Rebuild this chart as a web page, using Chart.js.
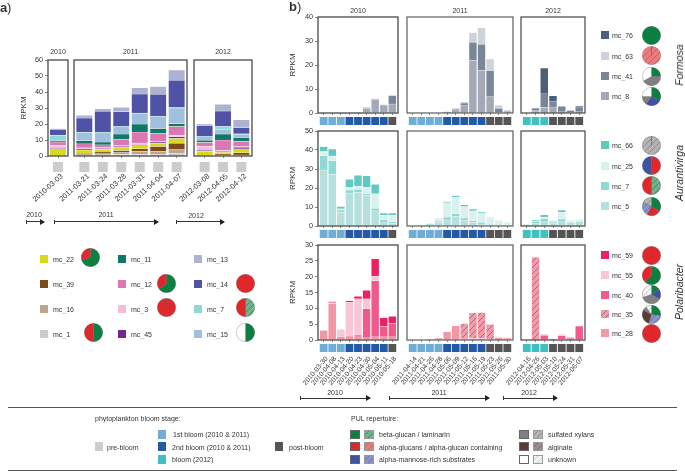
<!DOCTYPE html>
<html>
<head>
<meta charset="utf-8">
<title>RPKM</title>
<script src="https://cdn.jsdelivr.net/npm/chart.js@4"></script>
<style>
  html, body { margin: 0; padding: 0; background: #fff; }
  #page { position: relative; width: 685px; height: 471px; overflow: hidden; font-family: "Liberation Sans", Arial, sans-serif; color: #333; }
  #page canvas { position: absolute; }
  .txt { position: absolute; font-size: 7px; line-height: 9px; white-space: nowrap; transform: translateY(-50%); will-change: transform; }
  .box { position: absolute; box-sizing: border-box; }
</style>
</head>
<body>
<div id="page"></div>
<script>
// panel a) dates
const aDates = ["2010-03-03", "2011-03-21", "2011-03-24", "2011-03-28", "2011-03-31", "2011-04-04", "2011-04-07", "2012-03-08", "2012-04-05", "2012-04-12"];

// panel a) RPKM per cluster, one value per date
const a_mc_1 = [0.1, 0.7, 0.8, 1, 1, 1.2, 1.5, 0.1, 0.3, 0.3];
const a_mc_16 = [0.1, 0.8, 1.2, 1.5, 2, 1.8, 2.5, 0.2, 0.4, 0.4];
const a_mc_39 = [0, 0.3, 0.5, 1, 1.5, 3, 4, 0, 0.7, 1.3];
const a_mc_22 = [4.3, 2, 1.8, 2, 2, 2, 3, 2.7, 0.9, 2.5];
const a_mc_45 = [0.2, 0.3, 0.3, 0.5, 0.4, 0.7, 1, 0.5, 0.5, 1];
const a_mc_3 = [2, 1, 0.7, 0.5, 1.3, 0.5, 1, 2.5, 0.7, 0.5];
const a_mc_12 = [2, 2.5, 1.7, 4, 6.8, 5, 5.5, 2.5, 6.5, 3.3];
const a_mc_11 = [0.5, 2, 1.7, 3.2, 5, 3, 1.7, 1.3, 3.8, 2.2];
const a_mc_15 = [0.3, 5, 6, 4.7, 6.7, 7.5, 9.8, 2.2, 3, 2.1];
const a_mc_7 = [3.5, 0.2, 0.1, 0.1, 0.2, 0.2, 0.3, 0.2, 1.7, 0.3];
const a_mc_14 = [3.4, 9, 13.2, 9.2, 11.9, 13.7, 17.1, 6.8, 9.7, 4];
const a_mc_13 = [0.7, 1.7, 1.5, 2.8, 3.8, 4.8, 6.3, 1, 4.1, 4.7];

// panel b) dates per year
const bDates2010 = ["2010-03-30", "2010-04-08", "2010-04-13", "2010-04-20", "2010-04-23", "2010-04-30", "2010-05-04", "2010-05-11", "2010-05-18"];
const bDates2011 = ["2011-04-14", "2011-04-21", "2011-04-26", "2011-04-28", "2011-05-06", "2011-05-09", "2011-05-12", "2011-05-16", "2011-05-19", "2011-05-23", "2011-05-26", "2011-05-30"];
const bDates2012 = ["2012-04-16", "2012-04-26", "2012-05-03", "2012-05-10", "2012-05-24", "2012-05-31", "2012-06-07"];

// bloom stage of every sample
const bStages2010 = ["first", "first", "first", "second", "second", "second", "second", "second", "post"];
const bStages2011 = ["first", "first", "first", "first", "second", "second", "second", "second", "second", "post", "post", "post"];
const bStages2012 = ["bloom", "bloom", "bloom", "post", "post", "post", "post"];

// Formosa
const mc_8_2010 = [0, 0, 0, 0, 0.3, 2, 5.5, 3.3, 3.8];
const mc_8_2011 = [0, 0, 0, 0, 0.5, 1.7, 3.3, 22, 17.7, 6.8, 0.3, 0.5];
const mc_8_2012 = [0, 0.8, 2.3, 2.5, 0.5, 0.3, 0.5];
const mc_41_2010 = [0, 0, 0, 0, 0, 0.1, 0.1, 0, 3.5];
const mc_41_2011 = [0, 0, 0, 0, 0, 0, 0.9, 7.5, 11, 10.9, 1.7, 0.2];
const mc_41_2012 = [0, 0.3, 5.7, 2.5, 2.3, 0.6, 2];
const mc_63_2010 = [0, 0, 0, 0, 0.1, 0.4, 0.4, 0.2, 0.3];
const mc_63_2011 = [0, 0, 0, 0, 0.1, 0.3, 0.4, 4, 6.8, 4.8, 1.3, 0.6];
const mc_63_2012 = [0, 0.2, 0, 0, 0.2, 0.1, 0.1];
const mc_76_2010 = [0, 0, 0, 0, 0, 0, 0, 0, 0];
const mc_76_2011 = [0, 0, 0, 0, 0, 0, 0, 0, 0, 0, 0, 0];
const mc_76_2012 = [0, 0.7, 10.8, 2.2, 0, 0.1, 0.4];

// Aurantivirga
const mc_5_2010 = [29.5, 27.3, 7.3, 17.3, 17.8, 16.1, 8, 2.1, 1.4];
const mc_5_2011 = [0.1, 0.2, 0.7, 1.8, 3.2, 5, 3, 2, 1, 0.5, 0.4, 0.3];
const mc_5_2012 = [0.8, 1.6, 2.2, 1.5, 2.2, 1.8, 1.8];
const mc_7_2010 = [7.5, 7, 1.1, 1.7, 1.6, 0.9, 1.4, 1.2, 0.9];
const mc_7_2011 = [0, 0, 0.3, 0.8, 1.6, 1.4, 1.2, 0.8, 1, 0.3, 0.2, 0.1];
const mc_7_2012 = [0, 0.9, 1.8, 0.6, 1.5, 0.2, 0.3];
const mc_25_2010 = [2.2, 2.6, 0.7, 1.3, 1.6, 3.3, 7.6, 2.3, 3.3];
const mc_25_2011 = [0, 0.1, 0.5, 1.6, 7.5, 9, 6, 5.2, 5, 3.4, 2.4, 1.6];
const mc_25_2012 = [0.2, 0.3, 0.7, 0.6, 3.5, 0.5, 1.4];
const mc_66_2010 = [2.6, 3.6, 1.2, 4.3, 5.7, 6.1, 5, 1.2, 1.2];
const mc_66_2011 = [0, 0, 0, 0, 0.5, 0.6, 1, 1, 0.5, 0.1, 0, 0];
const mc_66_2012 = [0, 0.5, 1.2, 0.1, 1.2, 0.3, 0];

// Polaribacter
const mc_28_2010 = [3.1, 11.5, 1, 1.3, 1, 0.7, 1, 1, 1];
const mc_28_2011 = [0, 0, 0.1, 0.6, 2.6, 4.5, 0.6, 0.5, 0.5, 0.3, 0.8, 0.6];
const mc_28_2012 = [0, 0, 0.2, 0.1, 0.3, 0.9, 0.2];
const mc_35_2010 = [0, 0, 0, 0, 0, 0, 0, 0, 0];
const mc_35_2011 = [0, 0, 0, 0, 0, 0, 4.6, 8.1, 8.2, 4.6, 0, 0];
const mc_35_2012 = [0, 26.1, 0, 0, 0, 0, 0];
const mc_40_2010 = [0, 0, 0, 0, 0.6, 9.2, 17.7, 3.3, 4.3];
const mc_40_2011 = [0, 0, 0, 0, 0, 0, 0, 0, 0, 0, 0, 0];
const mc_40_2012 = [0, 0, 1.3, 0.2, 1.1, 0, 4.2];
const mc_55_2010 = [0, 0.3, 2.4, 10.6, 11.4, 3.1, 1.5, 0, 0];
const mc_55_2011 = [0, 0, 0, 0, 0, 0, 0, 0, 0, 0.3, 0.2, 0.1];
const mc_55_2012 = [0, 0.1, 0.4, 0.1, 0.4, 0, 0];
const mc_59_2010 = [0, 0.3, 0, 0.5, 0.8, 2.7, 5.5, 2.7, 2.2];
const mc_59_2011 = [0, 0, 0, 0, 0, 0, 0, 0, 0, 0, 0, 0];
const mc_59_2012 = [0, 0, 0, 0, 0, 0, 0];

// PUL repertoire shares, as [kind, percent]
const pie_mc_22 = [["beta", 70], ["alpha", 30]];
const pie_mc_1 = [["beta", 50], ["alpha", 50]];
const pie_mc_12 = [["beta", 65], ["alpha", 35]];
const pie_mc_3 = [["alpha", 100]];
const pie_mc_14 = [["alpha", 100]];
const pie_mc_7 = [["betaH", 50], ["alpha", 50]];
const pie_mc_15 = [["beta", 50], ["unknown", 50]];
const pie_mc_76 = [["beta", 100]];
const pie_mc_63 = [["alphaH", 100]];
const pie_mc_41 = [["beta", 25], ["sulfated", 42], ["unknown", 33]];
const pie_mc_8 = [["beta", 33], ["mannose", 27], ["sulfated", 15], ["unknown", 25]];
const pie_mc_66 = [["sulfatedH", 100]];
const pie_mc_25 = [["alpha", 50], ["mannose", 50]];
const pie_mc_5 = [["beta", 33], ["alpha", 25], ["mannoseH", 25], ["sulfatedH", 17]];
const pie_mc_59 = [["alpha", 100]];
const pie_mc_55 = [["beta", 62], ["alpha", 38]];
const pie_mc_40 = [["beta", 15], ["mannose", 18], ["sulfated", 37], ["unknownH", 30]];
const pie_mc_35 = [["beta", 27], ["mannoseH", 28], ["alginate", 28], ["sulfated", 7], ["unknownH", 10]];
const pie_mc_28 = [["alpha", 100]];

const page = document.getElementById("page");
const FONT = "'Liberation Sans', Arial, sans-serif";
const TEXT = "#333";

function hatch(bg, line) {
  const c = document.createElement("canvas");
  c.width = 6;
  c.height = 6;
  const g = c.getContext("2d");
  g.fillStyle = bg;
  g.fillRect(0, 0, 6, 6);
  g.strokeStyle = line;
  g.lineWidth = 0.9;
  g.beginPath();
  g.moveTo(-1, 7); g.lineTo(7, -1);
  g.moveTo(-1, 1); g.lineTo(1, -1);
  g.moveTo(5, 7); g.lineTo(7, 5);
  g.stroke();
  return g.createPattern(c, "repeat");
}

const pul = {
  beta: "#0b8040",
  alpha: "#e0282c",
  mannose: "#3f51a3",
  sulfated: "#808080",
  alginate: "#5d3a3a",
  unknown: "#ffffff",
  betaH: hatch("#6fb38c", "#3f8a60"),
  alphaH: hatch("#ea7c7f", "#c95a5e"),
  mannoseH: hatch("#8a94c6", "#6673ad"),
  sulfatedH: hatch("#b3b3b3", "#8a8a8a"),
  alginateH: hatch("#a08c8c", "#7a6464"),
  unknownH: hatch("#f4f4f4", "#c8c8c8")
};

const stageColors = { pre: "#cccccc", first: "#6fadd6", second: "#2359a5", bloom: "#41c0c0", post: "#555555" };

const clusterColors = {
  mc_1: "#cccccc", mc_16: "#bfa58a", mc_39: "#7d4a1c", mc_22: "#d9d91c", mc_45: "#6f2a92", mc_3: "#f0bedb",
  mc_12: "#db78b4", mc_11: "#0f7867", mc_15: "#a0c0de", mc_7: "#8dd9d3", mc_14: "#5052a6", mc_13: "#adb2d0",
  mc_76: "#4c5f78", mc_63: "#cfd2da", mc_41: "#788698", mc_8: "#a5a8b6",
  mc_66: "#62c8c2", mc_25: "#d9f1ef", mc_5: "#b5e0dd",
  mc_59: "#ee2060", mc_55: "#f9c6d8", mc_40: "#ef5a8a", mc_35: hatch("#f49bab", "#8d7078"), mc_28: "#f297a5"
};

// canvas overlay that draws the frame and the stage squares under the bars
const panelPlugin = {
  id: "panel",
  afterDraw(chart, args, opts) {
    const { ctx, chartArea: a, scales } = chart;
    ctx.save();
    opts.stages.forEach((s, i) => {
      const px = scales.x.getPixelForValue(i);
      ctx.fillStyle = stageColors[s];
      ctx.fillRect(px - opts.stripSize / 2, a.bottom + opts.stripGap, opts.stripSize, opts.stripHeight);
    });
    ctx.strokeStyle = opts.frameColor;
    ctx.lineWidth = 1.3;
    ctx.strokeRect(a.left, a.top, a.right - a.left, a.bottom - a.top);
    ctx.restore();
  }
};

function barPanel(p) {
  const LEFT = 50, RIGHT = 3, TITLE_H = 12;
  const yw = p.showY ? p.yWidth : 0;
  const canvas = document.createElement("canvas");
  const w = LEFT + (p.x1 - p.x0) + RIGHT;
  const h = TITLE_H + (p.y1 - p.y0) + p.axisH;
  canvas.width = w;
  canvas.height = h;
  canvas.style.left = (p.x0 - LEFT) + "px";
  canvas.style.top = (p.y0 - TITLE_H) + "px";
  page.appendChild(canvas);
  new Chart(canvas.getContext("2d"), {
    type: "bar",
    data: {
      datasets: p.series.map(([name, values]) => ({
        label: name,
        data: values.map((v, i) => ({ x: i, y: v })),
        backgroundColor: clusterColors[name],
        borderColor: "rgba(255,255,255,0.45)",
        borderWidth: 0.6,
        barThickness: p.barW
      }))
    },
    plugins: [panelPlugin],
    options: {
      responsive: false,
      animation: false,
      devicePixelRatio: 1,
      layout: { autoPadding: false, padding: { left: LEFT - yw, right: RIGHT, top: 0, bottom: 0 } },
      plugins: {
        legend: { display: false },
        tooltip: { enabled: false },
        title: {
          display: true,
          text: p.title,
          fullSize: false,
          color: TEXT,
          font: { family: FONT, size: 7, weight: "normal", lineHeight: 9 / 7 },
          padding: { top: p.titleTop, bottom: 3 - p.titleTop }
        },
        panel: {
          stages: p.stages,
          stripSize: p.stripSize,
          stripHeight: p.stripHeight,
          stripGap: p.stripGap,
          frameColor: p.frameColor
        }
      },
      scales: {
        x: {
          type: "linear",
          stacked: true,
          offset: false,
          min: -p.margin,
          max: p.labels.length - 1 + p.margin,
          afterBuildTicks: s => { s.ticks = p.labels.map((_, i) => ({ value: i })); },
          // long rotated labels run into the neighbouring canvas area, no padding wanted for them
          afterFit: s => { s.height = p.axisH; s.paddingLeft = 0; s.paddingRight = 0; },
          grid: { offset: false, drawOnChartArea: false, tickLength: 2, tickColor: "#555", tickWidth: 0.7 },
          border: { display: false },
          ticks: {
            display: p.showDates,
            autoSkip: false,
            maxRotation: p.rotation,
            minRotation: p.rotation,
            padding: p.tickPad,
            labelOffset: p.labelShift,
            color: TEXT,
            font: { family: FONT, size: p.dateSize },
            callback: v => p.labels[v]
          }
        },
        y: {
          display: p.showY,
          stacked: true,
          min: 0,
          max: p.yMax,
          afterFit: s => { if (p.showY) s.width = p.yWidth; },
          grid: { drawOnChartArea: false, tickLength: 3, tickColor: "#555", tickWidth: 0.7 },
          border: { display: false },
          ticks: {
            stepSize: p.yStep,
            padding: 2,
            color: TEXT,
            font: { family: FONT, size: 7.3 }
          },
          title: {
            display: true,
            text: "RPKM",
            color: TEXT,
            font: { family: FONT, size: 8 },
            padding: { top: 0, bottom: 0 }
          }
        }
      }
    }
  });
}

function piePanel(slices, cx, cy) {
  const canvas = document.createElement("canvas");
  canvas.width = 19;
  canvas.height = 19;
  canvas.style.left = (cx - 9.5) + "px";
  canvas.style.top = (cy - 9.5) + "px";
  page.appendChild(canvas);
  new Chart(canvas.getContext("2d"), {
    type: "pie",
    data: {
      labels: slices.map(s => s[0]),
      datasets: [{
        data: slices.map(s => s[1]),
        backgroundColor: slices.map(s => pul[s[0]]),
        borderColor: "rgba(90,90,90,0.65)",
        borderWidth: 0.5
      }]
    },
    options: {
      responsive: false,
      animation: false,
      devicePixelRatio: 1,
      plugins: { legend: { display: false }, tooltip: { enabled: false } }
    }
  });
}

function text(str, x, y, extra) {
  const d = document.createElement("div");
  d.className = "txt";
  d.textContent = str;
  d.style.left = x + "px";
  d.style.top = y + "px";
  if (extra) Object.assign(d.style, extra);
  page.appendChild(d);
  return d;
}

function box(x, y, w, h, fill, border) {
  const d = document.createElement("div");
  d.className = "box";
  d.style.left = x + "px";
  d.style.top = y + "px";
  d.style.width = w + "px";
  d.style.height = h + "px";
  d.style.background = fill;
  if (border) d.style.border = "0.8px solid " + border;
  page.appendChild(d);
}

// small canvas swatch, so that the same hatch patterns can be used
function swatch(x, y, w, h, fill, border) {
  const c = document.createElement("canvas");
  c.width = w;
  c.height = h;
  c.style.left = x + "px";
  c.style.top = y + "px";
  const g = c.getContext("2d");
  g.fillStyle = fill;
  g.fillRect(0, 0, w, h);
  if (border) {
    g.strokeStyle = border;
    g.lineWidth = 1;
    g.strokeRect(0.5, 0.5, w - 1, h - 1);
  }
  page.appendChild(c);
}

function arrow(x0, x1, y) {
  box(x0, y - 0.4, x1 - x0, 0.8, "#333");
  box(x0 - 0.4, y - 2, 0.8, 4, "#333");
  const c = document.createElement("canvas");
  c.width = 5;
  c.height = 6;
  c.style.left = (x1 - 4) + "px";
  c.style.top = (y - 3) + "px";
  const g = c.getContext("2d");
  g.fillStyle = "#222";
  g.beginPath();
  g.moveTo(0, 0); g.lineTo(5, 3); g.lineTo(0, 6);
  g.fill();
  page.appendChild(c);
}

// panel letters
text("a", 0, 7, { fontSize: "13px", fontWeight: "bold" });
text(")", 7, 7, { fontSize: "13px" });
text("b", 289, 6, { fontSize: "13px", fontWeight: "bold" });
text(")", 297, 6, { fontSize: "13px" });

// panel a) bars
const aSeries = [["mc_1", a_mc_1], ["mc_16", a_mc_16], ["mc_39", a_mc_39], ["mc_22", a_mc_22], ["mc_45", a_mc_45], ["mc_3", a_mc_3],
  ["mc_12", a_mc_12], ["mc_11", a_mc_11], ["mc_15", a_mc_15], ["mc_7", a_mc_7], ["mc_14", a_mc_14], ["mc_13", a_mc_13]];
const aBase = { y0: 60, y1: 156, axisH: 74, barW: 16.5, stripSize: 10, stripHeight: 10, stripGap: 6, showDates: true, titleTop: 0,
  rotation: 42, tickPad: 14, labelShift: 4, dateSize: 7.4, yMax: 60, yStep: 10, yWidth: 29, frameColor: "#4a4a4a" };
[
  { title: "2010", from: 0, to: 1, x0: 48, x1: 68, margin: 0.5, showY: true },
  { title: "2011", from: 1, to: 7, x0: 74, x1: 187, margin: 0.56, showY: false },
  { title: "2012", from: 7, to: 10, x0: 194, x1: 252, margin: 0.58, showY: false }
].forEach(c => {
  const labels = aDates.slice(c.from, c.to);
  barPanel({
    ...aBase, ...c, labels,
    stages: labels.map(() => "pre"),
    series: aSeries.map(([n, v]) => [n, v.slice(c.from, c.to)])
  });
});

// panel b) bars
const bColumns = [
  { title: "2010", x0: 318, x1: 398, labels: bDates2010, stages: bStages2010, frameColor: "#4a4a4a", showY: true, key: 0 },
  { title: "2011", x0: 407, x1: 513, labels: bDates2011, stages: bStages2011, frameColor: "#6a6a6a", showY: false, key: 1 },
  { title: "2012", x0: 521, x1: 585, labels: bDates2012, stages: bStages2012, frameColor: "#555555", showY: false, key: 2 }
];
const bRows = [
  { y0: 17, y1: 113, yMax: 40, yStep: 10, axisH: 14, showDates: false, titled: true,
    series: [["mc_8", [mc_8_2010, mc_8_2011, mc_8_2012]], ["mc_41", [mc_41_2010, mc_41_2011, mc_41_2012]],
      ["mc_63", [mc_63_2010, mc_63_2011, mc_63_2012]], ["mc_76", [mc_76_2010, mc_76_2011, mc_76_2012]]] },
  { y0: 131, y1: 226, yMax: 50, yStep: 10, axisH: 14, showDates: false, titled: false,
    series: [["mc_5", [mc_5_2010, mc_5_2011, mc_5_2012]], ["mc_7", [mc_7_2010, mc_7_2011, mc_7_2012]],
      ["mc_25", [mc_25_2010, mc_25_2011, mc_25_2012]], ["mc_66", [mc_66_2010, mc_66_2011, mc_66_2012]]] },
  { y0: 245, y1: 340, yMax: 30, yStep: 5, axisH: 60, showDates: true, titled: false,
    series: [["mc_28", [mc_28_2010, mc_28_2011, mc_28_2012]], ["mc_35", [mc_35_2010, mc_35_2011, mc_35_2012]],
      ["mc_40", [mc_40_2010, mc_40_2011, mc_40_2012]], ["mc_55", [mc_55_2010, mc_55_2011, mc_55_2012]],
      ["mc_59", [mc_59_2010, mc_59_2011, mc_59_2012]]] }
];
bRows.forEach(r => {
  bColumns.forEach(c => {
    barPanel({
      title: r.titled ? c.title : "",
      titleTop: 1.5,
      x0: c.x0, x1: c.x1, y0: r.y0, y1: r.y1, axisH: r.axisH,
      labels: c.labels, stages: c.stages, frameColor: c.frameColor, showY: c.showY,
      barW: 8, margin: 0.66, stripSize: 7.8, stripHeight: 8, stripGap: 4,
      showDates: r.showDates, rotation: 50, tickPad: 13, labelShift: 3, dateSize: 6.8,
      yMax: r.yMax, yStep: r.yStep, yWidth: 30,
      series: r.series.map(([n, parts]) => [n, parts[c.key]])
    });
  });
});

// panel a) cluster legend
[
  ["mc_22", 40, 53, 258.7, pie_mc_22, 90.5], ["mc_39", 40, 53, 284, null], ["mc_16", 40, 53, 308.7, null], ["mc_1", 40, 53, 333.7, pie_mc_1, 93.5],
  ["mc_11", 118, 131, 258.7, null], ["mc_12", 118, 131, 284, pie_mc_12, 166], ["mc_3", 118, 131, 308.7, pie_mc_3, 166], ["mc_45", 118, 131, 333.7, null],
  ["mc_13", 194, 207, 258.7, null], ["mc_14", 194, 207, 284, pie_mc_14, 245.5], ["mc_7", 194, 207, 308.7, pie_mc_7, 245.5], ["mc_15", 194, 207, 333.7, pie_mc_15, 245.5]
].forEach(([name, sx, tx, y, pie, px]) => {
  swatch(sx, Math.round(y - 4), 8, 8, clusterColors[name]);
  text(name, tx, y);
  if (pie) piePanel(pie, px, y - 1);
});

// panel b) cluster legend
[
  ["mc_76", 35.3, pie_mc_76], ["mc_63", 55.7, pie_mc_63], ["mc_41", 76, pie_mc_41], ["mc_8", 96, pie_mc_8],
  ["mc_66", 145.3, pie_mc_66], ["mc_25", 165.7, pie_mc_25], ["mc_7", 185.7, pie_mc_7], ["mc_5", 206, pie_mc_5],
  ["mc_59", 255, pie_mc_59], ["mc_55", 275, pie_mc_55], ["mc_40", 294.7, pie_mc_40], ["mc_35", 314.3, pie_mc_35], ["mc_28", 333.3, pie_mc_28]
].forEach(([name, y, pie]) => {
  swatch(601, Math.round(y - 4), 8, 8, clusterColors[name]);
  text(name, 611.5, y);
  piePanel(pie, 651.5, y);
});

// genus labels
[["Formosa", 65], ["Aurantivirga", 173], ["Polaribacter", 292]].forEach(([name, y]) => {
  text(name, 679, y, { fontSize: "10.5px", lineHeight: "12px", fontStyle: "italic", transform: "translate(-50%,-50%) rotate(-90deg)" });
});

// year arrows
[
  ["2010", 34, 213.7, 26, 44, 221.7], ["2011", 106, 213.7, 54, 158, 221.7], ["2012", 196, 214.5, 176, 224, 221.7],
  ["2010", 335, 392.3, 300, 370, 398.3], ["2011", 439, 392.3, 389, 489, 398.3], ["2012", 529, 392.3, 503, 557, 398.3]
].forEach(([year, tx, ty, x0, x1, y]) => {
  text(year, tx, ty, { transform: "translate(-50%,-50%)" });
  arrow(x0, x1, y);
});

// bottom key
box(8, 407, 669, 1, "#555");
box(8, 470, 669, 1, "#555");
text("phytoplankton bloom stage:", 95, 418.3);
text("PUL repertoire:", 351, 418.3);
[
  ["pre-bloom", "pre", 95, 107, 446.7], ["1st bloom (2010 & 2011)", "first", 158, 173, 434],
  ["2nd bloom (2010 & 2011)", "second", 158, 172, 446.7], ["bloom (2012)", "bloom", 158, 172, 459.3],
  ["post-bloom", "post", 275, 289, 446.7]
].forEach(([label, stage, sx, tx, y]) => {
  swatch(sx, Math.round(y - 4.5), 8, 9, stageColors[stage]);
  text(label, tx, y);
});
[
  ["beta-glucan / laminarin", "beta", 350, 378.5, 434], ["alpha-glucans / alpha-glucan containing", "alpha", 350, 378.5, 446.5],
  ["alpha-mannose-rich substrates", "mannose", 350, 378.5, 459.3], ["sulfated xylans", "sulfated", 519, 547.5, 434],
  ["alginate", "alginate", 519, 547.5, 446.5], ["unknown", "unknown", 519, 547.5, 459.3]
].forEach(([label, kind, sx, tx, y]) => {
  swatch(sx, Math.round(y - 4.5), 10, 9, pul[kind], "#666");
  swatch(sx + 13.5, Math.round(y - 4.5), 10, 9, pul[kind + "H"], "#999");
  text(label, tx, y);
});
</script>
</body>
</html>
